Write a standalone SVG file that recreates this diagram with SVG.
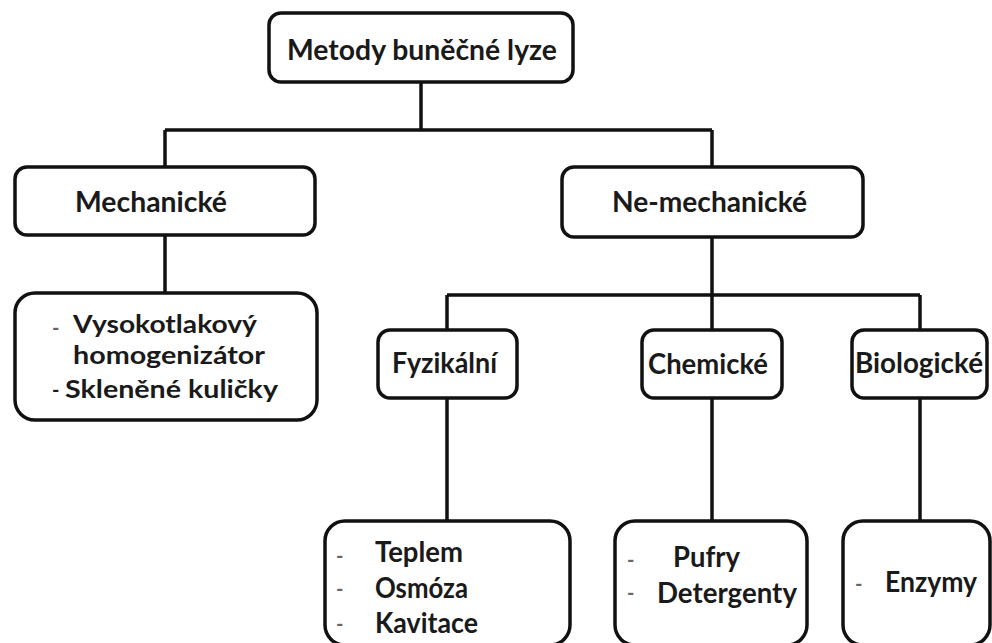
<svg xmlns="http://www.w3.org/2000/svg" width="992" height="643" viewBox="0 0 992 643">
<style>
.box{fill:#fff;stroke:#111;stroke-width:3.5}
.ln{fill:none;stroke:#111;stroke-width:3.5;stroke-linejoin:round}
.t{font-family:Lato,"Open Sans","Liberation Sans",sans-serif;font-weight:700;font-size:28px;fill:#1a1a1a}
.s{font-size:24px}
.d{font-family:Lato,"Liberation Sans",sans-serif;font-weight:700;font-size:20px;fill:#666}
</style>
<rect width="992" height="643" fill="#fff"/>
<g id="connectors">
<path class="ln" d="M421,82 V130 M165,130 H712 M165,130 V167 M712,130 V167"/>
<path class="ln" d="M165,235 V293"/>
<path class="ln" d="M712,237 V330 M447,295 H920 M447,295 V330 M920,295 V330"/>
<path class="ln" d="M447,398 V521 M712,398 V521 M920,398 V521"/>
</g>
<g id="root">
<rect class="box" x="269" y="13" width="304" height="69" rx="12"/>
<text class="t" x="287" y="60" textLength="270" lengthAdjust="spacingAndGlyphs">Metody buněčné lyze</text>
</g>
<g id="mechanicke">
<rect class="box" x="15" y="167" width="300" height="68" rx="12"/>
<text class="t" x="75" y="212" textLength="152" lengthAdjust="spacingAndGlyphs">Mechanické</text>
</g>
<g id="ne-mechanicke">
<rect class="box" x="562" y="167" width="301" height="70" rx="12"/>
<text class="t" x="612" y="212" textLength="195" lengthAdjust="spacingAndGlyphs">Ne-mechanické</text>
</g>
<g id="mech-list">
<rect class="box" x="15" y="293" width="302" height="127" rx="20"/>
<text class="d" x="52" y="335" font-size="16">-</text>
<text class="t s" x="73" y="333" textLength="184" lengthAdjust="spacingAndGlyphs">Vysokotlakový</text>
<text class="t s" x="73" y="364" textLength="192" lengthAdjust="spacingAndGlyphs">homogenizátor</text>
<text class="d" x="52" y="397" style="fill:#1a1a1a">-</text>
<text class="t s" x="65" y="398" textLength="213" lengthAdjust="spacingAndGlyphs">Skleněné kuličky</text>
</g>
<g id="fyzikalni">
<rect class="box" x="378" y="330" width="139" height="68" rx="12"/>
<text class="t" x="392" y="373" textLength="105" lengthAdjust="spacingAndGlyphs">Fyzikální</text>
</g>
<g id="chemicke">
<rect class="box" x="642" y="330" width="140" height="68" rx="12"/>
<text class="t" x="648" y="374" textLength="120" lengthAdjust="spacingAndGlyphs">Chemické</text>
</g>
<g id="biologicke">
<rect class="box" x="852" y="330" width="135" height="68" rx="12"/>
<text class="t" x="855" y="373" textLength="128" lengthAdjust="spacingAndGlyphs">Biologické</text>
</g>
<g id="fyz-list">
<rect class="box" x="325" y="521" width="245" height="124" rx="20"/>
<text class="d" x="336" y="563">-</text>
<text class="t" x="375" y="562" textLength="88" lengthAdjust="spacingAndGlyphs">Teplem</text>
<text class="d" x="336" y="596">-</text>
<text class="t" x="375" y="598" textLength="93" lengthAdjust="spacingAndGlyphs">Osmóza</text>
<text class="d" x="336" y="631">-</text>
<text class="t" x="375" y="633" textLength="103" lengthAdjust="spacingAndGlyphs">Kavitace</text>
</g>
<g id="chem-list">
<rect class="box" x="615" y="521" width="192" height="124" rx="20"/>
<text class="d" x="627" y="567">-</text>
<text class="t" x="673" y="567" textLength="67" lengthAdjust="spacingAndGlyphs">Pufry</text>
<text class="d" x="627" y="600">-</text>
<text class="t" x="657" y="603" textLength="140" lengthAdjust="spacingAndGlyphs">Detergenty</text>
</g>
<g id="bio-list">
<rect class="box" x="843" y="521" width="147" height="124" rx="20"/>
<text class="d" x="855" y="591">-</text>
<text class="t" x="885" y="592" textLength="92" lengthAdjust="spacingAndGlyphs">Enzymy</text>
</g>
</svg>
